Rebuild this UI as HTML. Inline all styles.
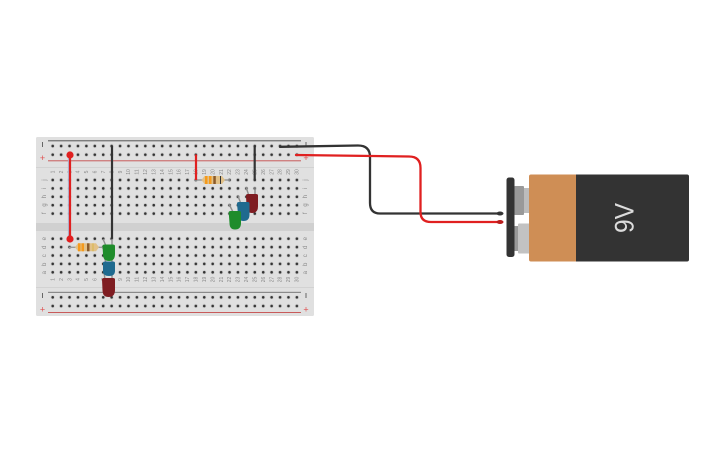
<!DOCTYPE html>
<html>
<head>
<meta charset="utf-8">
<style>
html,body{margin:0;padding:0;background:#fff;width:725px;height:453px;overflow:hidden}
svg{display:block}
text{font-family:"Liberation Sans",sans-serif}
.n text{font-size:5px;fill:#8a8a8a;text-anchor:middle}
.l text{font-size:6px;fill:#8a8a8a;text-anchor:middle}
</style>
</head>
<body>
<svg width="725" height="453" viewBox="0 0 725 453" xmlns="http://www.w3.org/2000/svg">
<defs>
<pattern id="h" x="48.5" y="0" width="8.42" height="8.4" patternUnits="userSpaceOnUse">
<circle cx="4.21" cy="4.2" r="2.1" fill="#d0d0d0"/>
<circle cx="4.21" cy="4.2" r="1.3" fill="#333"/>
</pattern>
<pattern id="r" x="48.5" y="0" width="8.42" height="8.7" patternUnits="userSpaceOnUse">
<circle cx="4.21" cy="4.2" r="2.1" fill="#d0d0d0"/>
<circle cx="4.21" cy="4.2" r="1.3" fill="#333"/>
</pattern>
</defs>

<!-- board -->
<rect x="36" y="137" width="278" height="179" rx="1.5" fill="#e0e0e0"/>
<rect x="36" y="223" width="278" height="8" fill="#d0d0d0"/>
<rect x="36" y="167" width="278" height="1" fill="#d2d2d2"/>
<rect x="36" y="287" width="278" height="1" fill="#d2d2d2"/>

<!-- rail lines -->
<rect x="48" y="140.3" width="253" height="1" fill="#555"/>
<rect x="48" y="160.3" width="253" height="1" fill="#c85a5a"/>
<rect x="48" y="291.8" width="253" height="1.2" fill="#8a8a8a"/>
<rect x="48" y="312" width="253" height="1" fill="#c85a5a"/>

<!-- holes -->
<g transform="translate(0,141.8)"><rect x="48.5" y="0" width="252.6" height="17.4" fill="url(#r)"/></g>
<g transform="translate(0,175.8)"><rect x="48.5" y="0" width="252.6" height="42" fill="url(#h)"/></g>
<g transform="translate(0,234.5)"><rect x="48.5" y="0" width="252.6" height="42" fill="url(#h)"/></g>
<g transform="translate(0,293.1)"><rect x="48.5" y="0" width="252.6" height="17.4" fill="url(#r)"/></g>

<!-- rail signs -->
<g fill="#e05050" font-size="9" text-anchor="middle">
<text x="42.5" y="161">+</text><text x="306" y="161">+</text>
<text x="42.5" y="312.5">+</text><text x="306" y="312.5">+</text>
</g>
<g fill="#666">
<rect x="42" y="142" width="1" height="5"/><rect x="305.5" y="142" width="1" height="5"/>
<rect x="42" y="293" width="1" height="5"/><rect x="305.5" y="293" width="1" height="5"/>
</g>

<!-- letters -->
<g class="l">
<text transform="translate(46,180) rotate(-90)">j</text>
<text transform="translate(46,188.3) rotate(-90)">i</text>
<text transform="translate(46,196.7) rotate(-90)">h</text>
<text transform="translate(46,205) rotate(-90)">g</text>
<text transform="translate(46,213.3) rotate(-90)">f</text>
<text transform="translate(46,238.7) rotate(-90)">e</text>
<text transform="translate(46,247.3) rotate(-90)">d</text>
<text transform="translate(46,255.7) rotate(-90)">c</text>
<text transform="translate(46,264.3) rotate(-90)">b</text>
<text transform="translate(46,272.7) rotate(-90)">a</text>
<text transform="translate(307,180) rotate(-90)">j</text>
<text transform="translate(307,188.3) rotate(-90)">i</text>
<text transform="translate(307,196.7) rotate(-90)">h</text>
<text transform="translate(307,205) rotate(-90)">g</text>
<text transform="translate(307,213.3) rotate(-90)">f</text>
<text transform="translate(307,238.7) rotate(-90)">e</text>
<text transform="translate(307,247.3) rotate(-90)">d</text>
<text transform="translate(307,255.7) rotate(-90)">c</text>
<text transform="translate(307,264.3) rotate(-90)">b</text>
<text transform="translate(307,272.7) rotate(-90)">a</text>
</g>

<!-- numbers -->
<g class="n">
<text transform="translate(54.5,172) rotate(-90)">1</text><text transform="translate(62.9,172) rotate(-90)">2</text><text transform="translate(71.3,172) rotate(-90)">3</text><text transform="translate(79.7,172) rotate(-90)">4</text><text transform="translate(88.1,172) rotate(-90)">5</text><text transform="translate(96.5,172) rotate(-90)">6</text><text transform="translate(105,172) rotate(-90)">7</text><text transform="translate(113.4,172) rotate(-90)">8</text><text transform="translate(121.8,172) rotate(-90)">9</text><text transform="translate(130.2,172) rotate(-90)">10</text><text transform="translate(138.6,172) rotate(-90)">11</text><text transform="translate(147,172) rotate(-90)">12</text><text transform="translate(155.5,172) rotate(-90)">13</text><text transform="translate(163.9,172) rotate(-90)">14</text><text transform="translate(172.3,172) rotate(-90)">15</text><text transform="translate(180.7,172) rotate(-90)">16</text><text transform="translate(189.1,172) rotate(-90)">17</text><text transform="translate(197.5,172) rotate(-90)">18</text><text transform="translate(206,172) rotate(-90)">19</text><text transform="translate(214.4,172) rotate(-90)">20</text><text transform="translate(222.8,172) rotate(-90)">21</text><text transform="translate(231.2,172) rotate(-90)">22</text><text transform="translate(239.6,172) rotate(-90)">23</text><text transform="translate(248,172) rotate(-90)">24</text><text transform="translate(256.5,172) rotate(-90)">25</text><text transform="translate(264.9,172) rotate(-90)">26</text><text transform="translate(273.3,172) rotate(-90)">27</text><text transform="translate(281.7,172) rotate(-90)">28</text><text transform="translate(290.1,172) rotate(-90)">29</text><text transform="translate(298.5,172) rotate(-90)">30</text>
<text transform="translate(54.5,279.5) rotate(-90)">1</text><text transform="translate(62.9,279.5) rotate(-90)">2</text><text transform="translate(71.3,279.5) rotate(-90)">3</text><text transform="translate(79.7,279.5) rotate(-90)">4</text><text transform="translate(88.1,279.5) rotate(-90)">5</text><text transform="translate(96.5,279.5) rotate(-90)">6</text><text transform="translate(105,279.5) rotate(-90)">7</text><text transform="translate(113.4,279.5) rotate(-90)">8</text><text transform="translate(121.8,279.5) rotate(-90)">9</text><text transform="translate(130.2,279.5) rotate(-90)">10</text><text transform="translate(138.6,279.5) rotate(-90)">11</text><text transform="translate(147,279.5) rotate(-90)">12</text><text transform="translate(155.5,279.5) rotate(-90)">13</text><text transform="translate(163.9,279.5) rotate(-90)">14</text><text transform="translate(172.3,279.5) rotate(-90)">15</text><text transform="translate(180.7,279.5) rotate(-90)">16</text><text transform="translate(189.1,279.5) rotate(-90)">17</text><text transform="translate(197.5,279.5) rotate(-90)">18</text><text transform="translate(206,279.5) rotate(-90)">19</text><text transform="translate(214.4,279.5) rotate(-90)">20</text><text transform="translate(222.8,279.5) rotate(-90)">21</text><text transform="translate(231.2,279.5) rotate(-90)">22</text><text transform="translate(239.6,279.5) rotate(-90)">23</text><text transform="translate(248,279.5) rotate(-90)">24</text><text transform="translate(256.5,279.5) rotate(-90)">25</text><text transform="translate(264.9,279.5) rotate(-90)">26</text><text transform="translate(273.3,279.5) rotate(-90)">27</text><text transform="translate(281.7,279.5) rotate(-90)">28</text><text transform="translate(290.1,279.5) rotate(-90)">29</text><text transform="translate(298.5,279.5) rotate(-90)">30</text>
</g>

<!-- resistors -->
<g>
<line x1="69" y1="247.3" x2="104" y2="247.3" stroke="#999" stroke-width="1.4"/>
<path d="M75,247.3 L78,243.300 H96 L99,247.3 L96,251.300 H78 Z" fill="#e2c188"/>
<rect x="78" y="243.300" width="2.500" height="8" fill="#f59a1c"/>
<rect x="81.500" y="243.300" width="2.500" height="8" fill="#f59a1c"/>
<rect x="87" y="243.300" width="2.500" height="8" fill="#8a5a2a"/>
<rect x="92.500" y="243.300" width="1" height="8" fill="#d8b84a"/>
<line x1="195" y1="180" x2="230" y2="180" stroke="#999" stroke-width="1.4"/>
<path d="M201.500,180 L204.500,176 H222 L225,180 L222,184 H204.500 Z" fill="#e2c188"/>
<rect x="205" y="176" width="2.500" height="8" fill="#f59a1c"/>
<rect x="209" y="176" width="2.500" height="8" fill="#f59a1c"/>
<rect x="213.300" y="176" width="2.500" height="8" fill="#8a5a2a"/>
<rect x="220" y="176" width="1" height="8" fill="#333"/>
</g>

<!-- board wires -->
<line x1="68.400" y1="155" x2="68.400" y2="239" stroke="#a9b8d8" stroke-width="1"/>
<line x1="70" y1="155" x2="70" y2="239" stroke="#e02020" stroke-width="2.200"/>
<line x1="112" y1="146" x2="112" y2="238.500" stroke="#333" stroke-width="2.200"/>
<line x1="196" y1="154.500" x2="196" y2="180" stroke="#e02020" stroke-width="2.200"/>
<line x1="254.700" y1="146" x2="254.700" y2="180" stroke="#333" stroke-width="2.200"/>
<circle cx="70" cy="155" r="3.600" fill="#e02020"/>
<circle cx="70" cy="239" r="3.600" fill="#e02020"/>

<!-- LED leads -->
<g stroke="#8f8f8f" stroke-width="1.400" fill="none">
<path d="M103,239 L106,246"/><path d="M112,239 L112,246"/>
<path d="M104,256 L106,263"/><path d="M112,256 L112,263"/>
<path d="M104,272 L105,280"/><path d="M112,272 L112,280"/>
<path d="M246,187 L249,196"/><path d="M255,187 L255,196"/>
<path d="M238,196 L241,204"/>
<path d="M229,204 L233,212"/>
</g>

<!-- LEDs lower -->
<path d="M103,263 Q103,261.500 105,261.500 H113 Q115,261.500 115,263 V271 Q115,276 109,276 Q103,276 103,271 Z" fill="#1f6a8f"/>
<path d="M102.500,246 Q102.500,244.500 105,244.500 H112.500 Q115,244.500 115,246 V254 Q115,261 109,261 Q103,261 103,254 Z" fill="#1f8c2b"/>
<path d="M102,279.500 Q102,278 104,278 H113 Q115,278 115,279.500 V290 Q115,297 108.500,297 Q102.500,297 102.500,290 Z" fill="#7f1d22"/>

<!-- LEDs upper -->
<path d="M246,195.500 Q246,194 248,194 H256 Q258,194 258,195.500 V206.500 Q258,213 252,213 Q246.500,213 246.500,206.500 Z" fill="#7f1d22"/>
<path d="M237,203.500 Q237,202 239,202 H247.500 Q249.500,202 249.500,203.500 V214.500 Q249.500,221 243.500,221 Q238,221 238,214.500 Z" fill="#1f6a8f"/>
<path d="M228.700,212.500 Q228.700,211 230.700,211 H239 Q241,211 241,212.500 V223 Q241,229.500 235,229.500 Q229.500,229.500 229.500,223 Z" fill="#1f8c2b"/>

<!-- external wires -->
<path d="M280,146.800 L358,145.500 Q370,145.500 370,157 V203 Q370,213.500 380,213.500 H500" fill="none" stroke="#333" stroke-width="2.300" stroke-linecap="round"/>
<path d="M296,155 L409,156.500 Q420.500,156.500 420.500,168 V212 Q420.500,222 431,222 H500" fill="none" stroke="#e02020" stroke-width="2.300" stroke-linecap="round"/>
<ellipse cx="500" cy="213.500" rx="3.500" ry="2" fill="#333"/>
<ellipse cx="500" cy="222" rx="3.500" ry="2" fill="#b81c1c"/>

<!-- battery -->
<rect x="514" y="186" width="10" height="29" rx="1" fill="#999"/>
<rect x="524" y="188" width="6" height="25" fill="#bcbcbc"/>
<rect x="514" y="226" width="5" height="25" fill="#999"/>
<rect x="518" y="223.500" width="12" height="30" rx="1" fill="#c2c2c2"/>
<rect x="506.500" y="177.500" width="8" height="79.500" rx="2.500" fill="#333"/>
<path d="M576,174.500 H687 Q689,174.500 689,176.500 V259.500 Q689,261.500 687,261.500 H576 Z" fill="#333"/>
<path d="M576,174.500 H531 Q529,174.500 529,176.500 V259.500 Q529,261.500 531,261.500 H576 Z" fill="#cf8e55"/>
<text transform="translate(633.500,233) rotate(-90)" font-size="27" fill="#dcdcdc" textLength="30" lengthAdjust="spacingAndGlyphs">9V</text>
</svg>
</body>
</html>
